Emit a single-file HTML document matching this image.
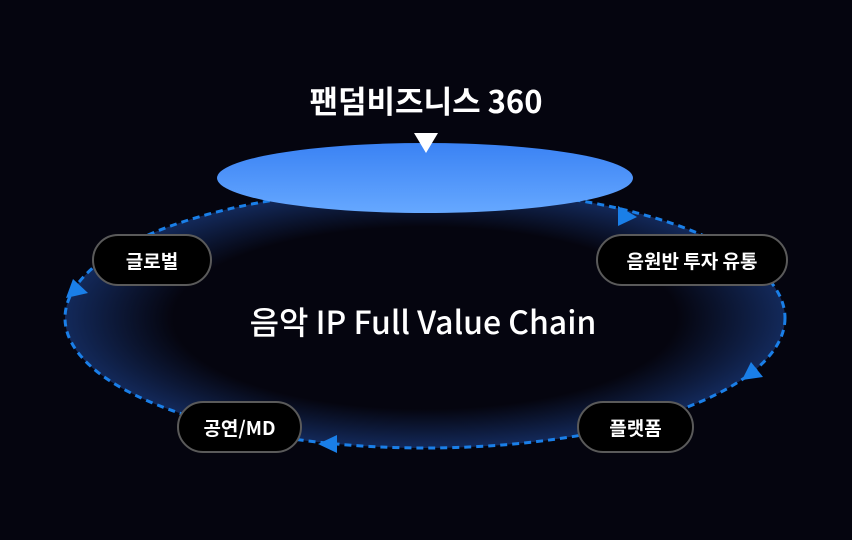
<!DOCTYPE html>
<html><head><meta charset="utf-8"><style>
html,body{margin:0;padding:0;background:#05050f;}
body{width:852px;height:540px;overflow:hidden;position:relative;font-family:"Noto Sans CJK KR","Liberation Sans",sans-serif;color:#fff;}
.pill{position:absolute;height:52px;border:2px solid #5a5a5a;border-radius:28px;background:#000;display:flex;align-items:center;justify-content:center;font-size:19px;font-weight:bold;box-sizing:border-box;}
</style></head><body>
<svg width="852" height="540" style="position:absolute;left:0;top:0">
<defs>
<radialGradient id="g" cx="50%" cy="50%" r="50%">
<stop offset="0.7" stop-color="#05050f"/>
<stop offset="1" stop-color="#13295a"/>
</radialGradient>
<linearGradient id="t" x1="0" y1="0" x2="0" y2="1">
<stop offset="0" stop-color="#3a82f4"/>
<stop offset="1" stop-color="#66a8ff"/>
</linearGradient>
</defs>
<ellipse cx="425" cy="318" rx="360" ry="130" fill="url(#g)" stroke="#1a7fe8" stroke-width="3" stroke-dasharray="7 5"/>
<ellipse cx="425" cy="178" rx="208" ry="35" fill="url(#t)"/>
<polygon points="414,133 438,133 426,153" fill="#fff"/>
<polygon points="618,206 637,217 618,226" fill="#1a7fe8"/>
<polygon points="66,298 73,279 88,293" fill="#1a7fe8"/>
<polygon points="742,380 751,362 763,377" fill="#1a7fe8"/>
<polygon points="318,444 337,435 337,453" fill="#1a7fe8"/>
</svg>
<div style="position:absolute;left:0;width:852px;top:78px;text-align:center;font-size:31px;font-weight:bold;line-height:44px;">팬덤비즈니스 360</div>
<div style="position:absolute;left:0;width:846px;top:299px;text-align:center;font-size:32px;font-weight:500;line-height:44px;">음악 IP Full Value Chain</div>
<div class="pill" style="left:92px;top:234px;width:120px;">글로벌</div>
<div class="pill" style="left:596px;top:234px;width:192px;">음원반 투자 유통</div>
<div class="pill" style="left:177px;top:401px;width:125px;">공연/MD</div>
<div class="pill" style="left:577px;top:401px;width:117px;">플랫폼</div>
</body></html>
